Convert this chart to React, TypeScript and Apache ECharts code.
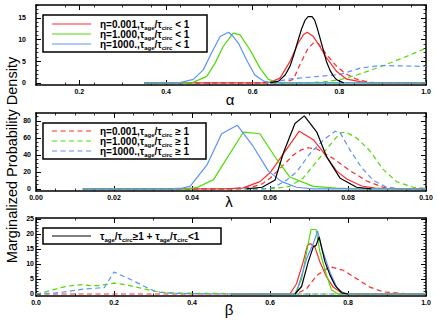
import { useEffect, useRef } from 'react';
import * as echarts from 'echarts';

// ---------- Panel 1 : alpha ----------
const alphaXTicks = [0.2, 0.4, 0.6, 0.8, 1.0];
const alphaYTicks = [0, 5, 10, 15];
const alphaBlackX = [0.64, 0.66, 0.675, 0.686, 0.695, 0.705, 0.713, 0.721, 0.728, 0.737, 0.743, 0.748, 0.755, 0.763, 0.77, 0.778, 0.786, 0.794, 0.81];
const alphaBlackY = [0, 0.4, 1.8, 3.8, 6.5, 9.9, 12.5, 14.5, 15.3, 15.3, 14.5, 13, 10.5, 7.6, 5, 3, 1.6, 0.7, 0];
const alphaRedX = [0.35, 0.62, 0.64, 0.663, 0.686, 0.705, 0.717, 0.726, 0.74, 0.755, 0.771, 0.794, 0.817, 0.848, 0.87, 1.0];
const alphaRedY = [0, 0, 0.1, 1.1, 4.9, 9.2, 11.1, 11.7, 10.7, 8.4, 5.7, 2.6, 0.85, 0.3, 0, 0];
const alphaGreenX = [0.35, 0.46, 0.494, 0.513, 0.532, 0.555, 0.571, 0.594, 0.617, 0.636, 0.66, 1.0];
const alphaGreenY = [0, 0, 1.5, 4.5, 8.4, 11.5, 11.1, 7.6, 3.4, 0.8, 0, 0];
const alphaBlueX = [0.35, 0.43, 0.463, 0.486, 0.505, 0.525, 0.544, 0.555, 0.567, 0.586, 0.605, 0.625, 0.645, 1.0];
const alphaBlueY = [0, 0, 0.8, 3, 6.9, 10.7, 11.7, 10.7, 9.2, 5.3, 1.8, 0.4, 0, 0];
const alphaRedDashX = [0.35, 0.67, 0.694, 0.709, 0.728, 0.74, 0.751, 0.771, 0.794, 0.813, 0.84, 0.87, 0.9, 1.0];
const alphaRedDashY = [0, 0, 0.8, 4.2, 8, 9.2, 9.1, 6.5, 3.8, 2.2, 0.85, 0.1, 0, 0];
const alphaGreenDashX = [0.35, 0.72, 0.76, 0.8, 0.84, 0.88, 0.92, 0.96, 1.0];
const alphaGreenDashY = [0, 0, 0.2, 0.7, 1.8, 3.2, 4.7, 6.3, 8.0];
const alphaBlueDashX = [0.35, 0.62, 0.65, 0.686, 0.74, 0.8, 0.848, 0.894, 0.95, 1.0];
const alphaBlueDashY = [0, 0, 0.2, 0.9, 1.4, 1.9, 3.4, 4.0, 3.9, 3.8];

// ---------- Panel 2 : lambda ----------
const lambdaXTicks = [0.0, 0.02, 0.04, 0.06, 0.08, 0.1];
const lambdaYTicks = [0, 20, 40, 60, 80];
const lambdaBlackX = [0.054, 0.058, 0.0613, 0.0634, 0.0664, 0.0688, 0.072, 0.0745, 0.078, 0.0822, 0.086];
const lambdaBlackY = [0, 2, 10.6, 42, 77, 86, 67, 38, 12.5, 2, 0];
const lambdaRedX = [0.012, 0.048, 0.053, 0.0574, 0.06, 0.0675, 0.0711, 0.0737, 0.0771, 0.0797, 0.0835, 0.087, 0.092, 0.1];
const lambdaRedY = [0, 0, 1, 8.6, 19, 68, 58, 43, 21, 11.8, 3.5, 1, 0, 0];
const lambdaGreenX = [0.012, 0.038, 0.0412, 0.0455, 0.0532, 0.0574, 0.0617, 0.0651, 0.0711, 0.077, 0.082, 0.1];
const lambdaGreenY = [0, 0, 1.5, 11, 67, 65, 35, 14, 3, 1, 0, 0];
const lambdaBlueX = [0.012, 0.034, 0.0375, 0.0395, 0.0438, 0.0476, 0.0516, 0.0557, 0.0596, 0.063, 0.0668, 0.071, 0.1];
const lambdaBlueY = [0, 0, 1, 3, 28, 65, 75, 50, 21, 8.6, 2, 0, 0];
const lambdaRedDashX = [0.012, 0.05, 0.0557, 0.058, 0.06, 0.0643, 0.066, 0.068, 0.0698, 0.072, 0.0762, 0.0805, 0.0848, 0.089, 0.093, 0.1];
const lambdaRedDashY = [0, 0, 2.7, 6, 12.6, 32, 40, 46, 48.5, 47, 36, 21.6, 9.4, 2, 0, 0];
const lambdaGreenDashX = [0.012, 0.06, 0.065, 0.0685, 0.072, 0.0754, 0.078, 0.0795, 0.0822, 0.0856, 0.089, 0.0925, 0.0967, 0.1];
const lambdaGreenDashY = [0, 0, 3, 13, 32.5, 52, 66, 67, 60, 45, 23, 8.5, 2, 0.5];
const lambdaBlueDashX = [0.012, 0.058, 0.0609, 0.0643, 0.0668, 0.0703, 0.0737, 0.0767, 0.078, 0.0805, 0.0835, 0.0865, 0.0899, 0.094, 0.1];
const lambdaBlueDashY = [0, 0, 1.5, 10.6, 20, 42, 57.6, 68, 66, 46, 25, 10, 2, 0, 0];

// ---------- Panel 3 : beta ----------
const betaXTicks = [0.0, 0.2, 0.4, 0.6, 0.8, 1.0];
const betaYTicks = [0, 5, 10, 15, 20, 25];
const betaBlackX = [0.664, 0.681, 0.698, 0.711, 0.718, 0.726, 0.741, 0.754, 0.767, 0.784, 0.8];
const betaBlackY = [0, 2.5, 10.7, 15.7, 16.2, 19, 10.7, 6.2, 2.8, 0.4, 0];
const betaRedX = [0.5, 0.651, 0.668, 0.685, 0.696, 0.703, 0.715, 0.728, 0.745, 0.762, 0.78, 0.8, 1.0];
const betaRedY = [0, 0, 3.4, 10.7, 16.2, 16.8, 15.7, 10.7, 5.7, 2.3, 0.7, 0, 0];
const betaGreenX = [0.5, 0.664, 0.681, 0.694, 0.705, 0.718, 0.728, 0.745, 0.758, 0.775, 1.0];
const betaGreenY = [0, 0, 5, 14, 21.5, 21.5, 14, 6.2, 1.3, 0, 0];
const betaBlueX = [0.5, 0.664, 0.668, 0.694, 0.711, 0.722, 0.733, 0.754, 0.771, 0.79, 1.0];
const betaBlueY = [0, 0, 0.4, 11.8, 16.8, 21, 15.2, 7.2, 2.3, 0, 0];
const betaRedDashX = [0.0, 0.66, 0.668, 0.694, 0.72, 0.754, 0.788, 0.822, 0.856, 0.89, 0.942, 0.97, 1.0];
const betaRedDashY = [0, 0, 0, 1.8, 6.2, 9.1, 7.9, 5.1, 2.3, 0.7, 0.2, 0, 0];
const betaGreenDashX = [0.0, 0.02, 0.04, 0.06, 0.08, 0.1, 0.12, 0.14, 0.16, 0.18, 0.2, 0.22, 0.24, 0.26, 0.28, 0.3, 0.32, 0.36, 0.45, 0.55, 0.6, 1.0];
const betaGreenDashY = [0, 0.5, 1.3, 2.0, 2.6, 2.9, 3.1, 2.8, 2.8, 3.2, 3.6, 3.3, 2.8, 2.2, 1.6, 1.0, 0.6, 0.3, 0.2, 0.1, 0, 0];
const betaBlueDashX = [0.0, 0.04, 0.08, 0.12, 0.16, 0.175, 0.2, 0.24, 0.28, 0.3, 0.32, 0.36, 0.4, 0.45, 1.0];
const betaBlueDashY = [0, 0.2, 0.8, 1.6, 2.0, 2.1, 7.3, 5.0, 2.4, 1.2, 0.5, 0.2, 0.1, 0, 0];

const legendTop = [
  'η=0.001,τ{s|age}/τ{s|circ} < 1',
  'η=1.000,τ{s|age}/τ{s|circ} < 1',
  'η=1000.,τ{s|age}/τ{s|circ} < 1',
];
const legendMid = [
  'η=0.001,τ{s|age}/τ{s|circ} ≥ 1',
  'η=1.000,τ{s|age}/τ{s|circ} ≥ 1',
  'η=1000.,τ{s|age}/τ{s|circ} ≥ 1',
];
const legendBottom = 'τ{s|age}/τ{s|circ}≥1 + τ{s|age}/τ{s|circ}<1';
const yTitle = 'Marginalized Probability Density';

const RED = '#ff2a2a';
const GREEN = '#4cdc00';
const BLUE = '#5a92ff';
const BLACK = '#000000';
const FONT = '"Liberation Sans", Arial, Helvetica, sans-serif';

function steps(min: number, max: number, step: number) {
  const out: number[] = [];
  const n = Math.round((max - min) / step);
  for (let i = 0; i <= n; i++) out.push(+(min + i * step).toFixed(6));
  return out;
}

function boxAxes(dim: 'x' | 'y', grid: number, min: number, max: number, majors: number[], minors: number[], fmt: (v: number) => string, margin: number) {
  const pos = dim === 'x' ? ['bottom', 'top'] : ['left', 'right'];
  const common = { type: 'value', gridIndex: grid, min, max, splitLine: { show: false }, scale: false };
  const line = { show: true, onZero: false, lineStyle: { color: '#000', width: 1.5 } };
  const majTick = { show: true, inside: true, length: 5, customValues: majors, lineStyle: { color: '#000', width: 1 } };
  const minTick = { show: true, inside: true, length: 2.5, customValues: minors, lineStyle: { color: '#000', width: 0.8 } };
  return [
    {
      ...common, position: pos[0], axisLine: line, axisTick: majTick,
      axisLabel: {
        show: true, customValues: majors, formatter: (v: number) => fmt(v), margin,
        fontSize: 7, fontWeight: 'bold', fontFamily: FONT, color: '#000',
      },
    },
    { ...common, position: pos[0], axisLine: { show: false, onZero: false }, axisTick: minTick, axisLabel: { show: false } },
    { ...common, position: pos[1], axisLine: line, axisTick: majTick, axisLabel: { show: false } },
    { ...common, position: pos[1], axisLine: { show: false, onZero: false }, axisTick: minTick, axisLabel: { show: false } },
  ];
}

function series(x: number[], y: number[], color: string, dashed: boolean, grid: number, z: number) {
  return {
    type: 'line',
    xAxisIndex: grid * 4,
    yAxisIndex: grid * 4,
    data: x.map((v, i) => [v, y[i]]),
    showSymbol: false,
    symbol: 'none',
    silent: true,
    z,
    lineStyle: { color, width: 1.2, type: dashed ? [5, 3.5] : 'solid' },
  };
}

function richText(text: string, x: number, y: number) {
  return {
    type: 'text', x, y, z: 110,
    style: {
      text, fill: '#000', fontSize: 10, fontWeight: 'bold', fontFamily: FONT, lineHeight: 14,
      align: 'left', textAlign: 'left', verticalAlign: 'middle', textVerticalAlign: 'middle',
      rich: {
        s: { fontSize: 6, fontWeight: 'bold', fontFamily: FONT, lineHeight: 6, verticalAlign: 'bottom', fill: '#000' },
      },
    },
  };
}

function legend(bx: number, by: number, bw: number, bh: number, rows: { color: string; dashed: boolean; text: string; y: number }[]) {
  const els: any[] = [
    { type: 'rect', z: 105, shape: { x: bx, y: by, width: bw, height: bh }, style: { fill: '#fff', stroke: '#000', lineWidth: 1.5 } },
  ];
  rows.forEach((r) => {
    els.push({
      type: 'line', z: 110, shape: { x1: 52, y1: r.y, x2: 91, y2: r.y },
      style: { stroke: r.color, lineWidth: 1.2, lineDash: r.dashed ? [5, 3.5] : null },
    });
    els.push(richText(r.text, 100, r.y));
  });
  return els;
}

function axisName(text: string, x: number, y: number) {
  return {
    type: 'text', x, y, z: 110,
    style: {
      text, fill: '#000', fontSize: 15, fontFamily: FONT,
      align: 'center', textAlign: 'center', verticalAlign: 'middle', textVerticalAlign: 'middle',
    },
  };
}

export default function App() {
  const ref = useRef<HTMLDivElement>(null);
  useEffect(() => {
    if (!ref.current) return;
    const chart = echarts.init(ref.current, null, { renderer: 'svg' });
    const grids = [
      { left: 36, width: 390, top: 5, height: 80, containLabel: false, outerBoundsMode: 'none' },
      { left: 36, width: 390, top: 113, height: 78, containLabel: false, outerBoundsMode: 'none' },
      { left: 36, width: 390, top: 218, height: 78, containLabel: false, outerBoundsMode: 'none' },
    ];
    const f1 = (v: number) => v.toFixed(1);
    const f2 = (v: number) => v.toFixed(2);
    const fi = (v: number) => String(Math.round(v));
    const xAxis = [
      ...boxAxes('x', 0, 0.1, 1.0, alphaXTicks, steps(0.1, 1.0, 0.2 / 3), f1, 3),
      ...boxAxes('x', 1, 0, 0.1, lambdaXTicks, steps(0, 0.1, 0.005), f2, 3),
      ...boxAxes('x', 2, 0, 1.0, betaXTicks, steps(0, 1.0, 0.1), f1, 3),
    ];
    const yAxis = [
      ...boxAxes('y', 0, -0.5, 18, alphaYTicks, steps(0, 18, 1), fi, 10),
      ...boxAxes('y', 1, -2.4, 89.4, lambdaYTicks, steps(0, 85, 5), fi, 5),
      ...boxAxes('y', 2, -0.67, 25.33, betaYTicks, steps(0, 25, 1), fi, 2),
    ];
    const seriesList = [
      series(alphaRedDashX, alphaRedDashY, RED, true, 0, 2),
      series(alphaGreenDashX, alphaGreenDashY, GREEN, true, 0, 2),
      series(alphaBlueDashX, alphaBlueDashY, BLUE, true, 0, 2),
      series(alphaRedX, alphaRedY, RED, false, 0, 3),
      series(alphaGreenX, alphaGreenY, GREEN, false, 0, 3),
      series(alphaBlueX, alphaBlueY, BLUE, false, 0, 3),
      series(alphaBlackX, alphaBlackY, BLACK, false, 0, 4),

      series(lambdaRedDashX, lambdaRedDashY, RED, true, 1, 2),
      series(lambdaGreenDashX, lambdaGreenDashY, GREEN, true, 1, 2),
      series(lambdaBlueDashX, lambdaBlueDashY, BLUE, true, 1, 2),
      series(lambdaRedX, lambdaRedY, RED, false, 1, 3),
      series(lambdaGreenX, lambdaGreenY, GREEN, false, 1, 3),
      series(lambdaBlueX, lambdaBlueY, BLUE, false, 1, 3),
      series(lambdaBlackX, lambdaBlackY, BLACK, false, 1, 4),

      series(betaRedDashX, betaRedDashY, RED, true, 2, 2),
      series(betaGreenDashX, betaGreenDashY, GREEN, true, 2, 2),
      series(betaBlueDashX, betaBlueDashY, BLUE, true, 2, 2),
      series(betaRedX, betaRedY, RED, false, 2, 3),
      series(betaGreenX, betaGreenY, GREEN, false, 2, 3),
      series(betaBlueX, betaBlueY, BLUE, false, 2, 3),
      series(betaBlackX, betaBlackY, BLACK, false, 2, 4),
    ];
    const graphic = [
      ...legend(43, 15, 164, 37, [
        { color: RED, dashed: false, text: legendTop[0], y: 24 },
        { color: GREEN, dashed: false, text: legendTop[1], y: 34 },
        { color: BLUE, dashed: false, text: legendTop[2], y: 44 },
      ]),
      ...legend(43, 123, 163, 36, [
        { color: RED, dashed: true, text: legendMid[0], y: 131 },
        { color: GREEN, dashed: true, text: legendMid[1], y: 141 },
        { color: BLUE, dashed: true, text: legendMid[2], y: 151 },
      ]),
      ...legend(43, 228, 178, 16, [{ color: BLACK, dashed: false, text: legendBottom, y: 236 }]),
      axisName('α', 230, 99),
      axisName('λ', 229, 201),
      axisName('β', 229, 309),
      {
        type: 'text', x: 12, y: 160, rotation: Math.PI / 2, z: 110,
        style: {
          text: yTitle, fill: '#000', fontSize: 14.5, fontFamily: FONT,
          align: 'center', textAlign: 'center', verticalAlign: 'middle', textVerticalAlign: 'middle',
        },
      },
    ];
    chart.setOption({
      animation: false,
      backgroundColor: '#fff',
      grid: grids,
      xAxis,
      yAxis,
      series: seriesList,
      graphic,
    } as any);
    return () => chart.dispose();
  }, []);
  return <div ref={ref} style={{ position: 'fixed', left: 0, top: 0, width: 437, height: 321, background: '#fff' }} />;
}
